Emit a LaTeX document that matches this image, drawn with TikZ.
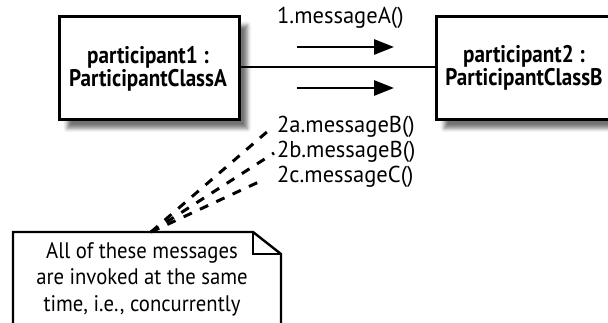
\documentclass[tikz,border=0pt]{standalone}
\usepackage{fontspec}
\setmainfont{PT Sans}[FakeStretch=0.88]
\newfontfamily\msgfont{PT Sans}[FakeStretch=0.98]
\newfontfamily\notefont{PT Sans}[FakeStretch=0.92]
\usetikzlibrary{arrows.meta,shadows.blur}
\begin{document}
\begin{tikzpicture}[x=1pt,y=-1pt,
  part/.style={draw, line width=2.6pt, fill=white, minimum width=180pt, minimum height=103pt,
    blur shadow={shadow xshift=8pt, shadow yshift=-9pt, shadow blur radius=4pt, shadow opacity=55}},
  parttext/.style={font=\bfseries\fontsize{24}{21}\selectfont, align=center},
  msg/.style={font=\msgfont\fontsize{23}{24}\selectfont, anchor=west, inner sep=0pt},
  link/.style={line width=2.4pt},
  msgarrow/.style={line width=2.8pt, -{Triangle[length=20pt,width=15pt]}},
  dashline/.style={line width=3pt, dash pattern=on 9pt off 9pt},
  notetext/.style={font=\notefont\fontsize{22.5}{26.5}\selectfont, align=center}]
\useasboundingbox (0,0) rectangle (608,322);
% participants
\node[part, anchor=north west] (p1) at (58,15) {};
\node[parttext] (t1) at (148,69) {participant1 :\\ParticipantClassA};
\node[part, anchor=north west] (p2) at (435,15) {};
\node[parttext] (t2) at (524,68) {participant2 :\\ParticipantClassB};
\draw[link] (p1.east |- 0,67) -- (p2.west |- 0,67);
% messages
\node[msg] (mA) at (277,18) {1.messageA()};
\coordinate (a1s) at (297,47);
\coordinate (a1e) at (394,47);
\coordinate (a2s) at (297,88);
\coordinate (a2e) at (394,88);
\draw[msgarrow] (a1s) -- (a1e);
\draw[msgarrow] (a2s) -- (a2e);
\node[msg] (m2a) at (277,127) {2a.messageB()};
\node[msg] (m2b) at (277,152) {2b.messageB()};
\node[msg] (m2c) at (277,177) {2c.messageC()};
% note
\draw[line width=2.4pt, fill=white, line join=miter]
  (13,232) -- (253,232) -- (281,254) -- (281,335) -- (13,335) -- cycle;
\draw[line width=2pt] (253,232) -- (253,254) -- (281,254);
\node[notetext] (note) at (142,279) {All of these messages\\are invoked at the same\\time, i.e., concurrently};
\coordinate (cv) at (151,232);
\coordinate (da) at (268,131);
\coordinate (db) at (274,153);
\coordinate (dc) at (263,180);
\draw[dashline] (cv) -- (da);
\draw[dashline] (cv) -- (db);
\draw[dashline] (cv) -- (dc);
\end{tikzpicture}
\end{document}
